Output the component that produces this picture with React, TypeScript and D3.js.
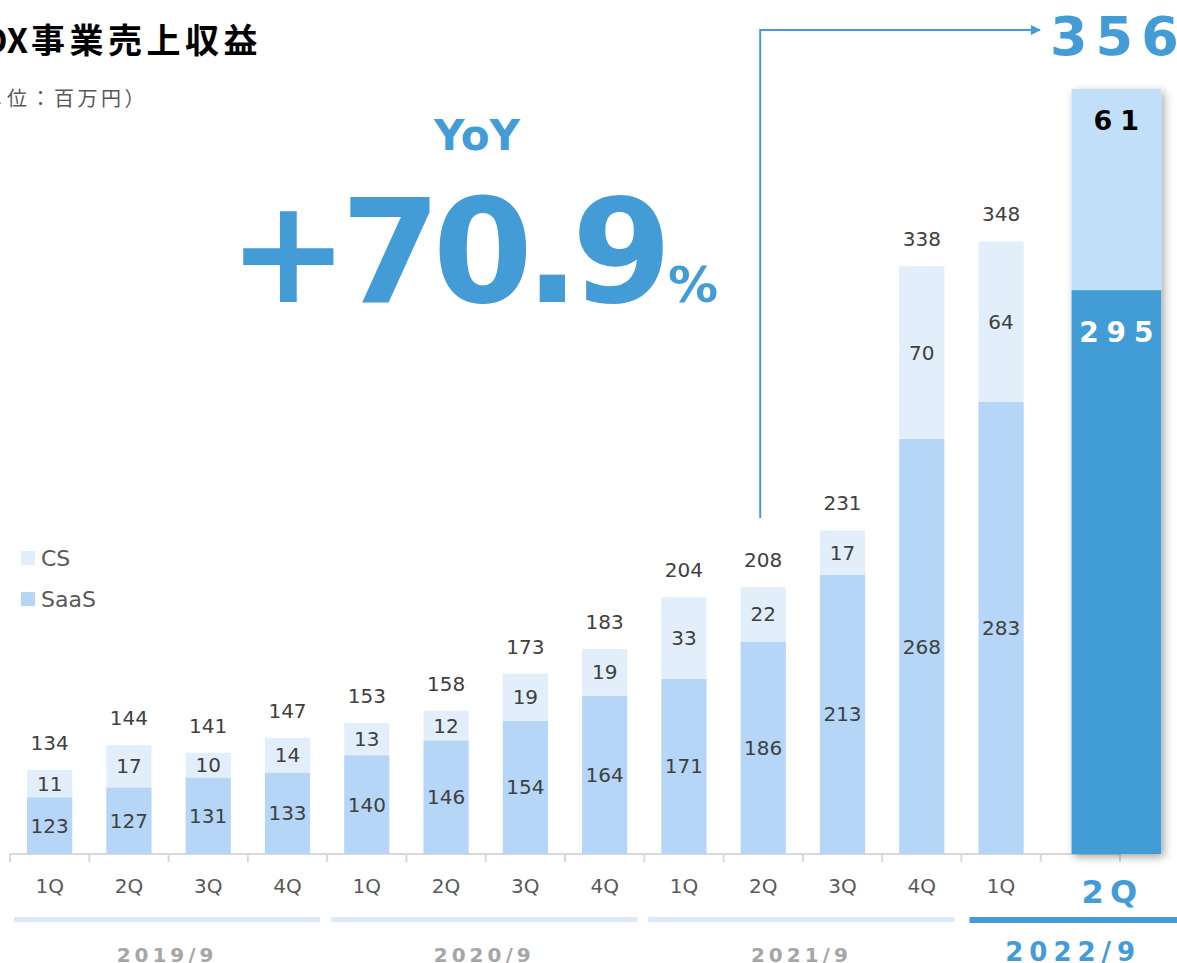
import * as d3 from 'd3'

// quarterly revenue (million yen)
const quarters = ['1Q', '2Q', '3Q', '4Q', '1Q', '2Q', '3Q', '4Q', '1Q', '2Q', '3Q', '4Q', '1Q', '2Q']
const saas = [123, 127, 131, 133, 140, 146, 154, 164, 171, 186, 213, 268, 283, 295]
const cs = [11, 17, 10, 14, 13, 12, 19, 19, 33, 22, 17, 70, 64, 61]
const totals = [134, 144, 141, 147, 153, 158, 173, 183, 204, 208, 231, 338, 348, 356]
const years = ['2019/9', '2020/9', '2021/9', '2022/9']
const yearSpans = [4, 4, 4, 2]

const W = 1177
const H = 963
const BLUE = '#439cd6'
const SAAS = '#b5d6f6'
const CSC = '#e2effb'
const HL_CS = '#c2dff9'
const TXT = '#404040'
const JP = '"Noto Sans CJK JP", sans-serif'
const LAT = '"DejaVu Sans", Verdana, sans-serif'

export default function App() {
  const baseY = 854
  const idx = quarters.map((_, i) => i)
  const x = d3.scaleBand<number>().domain(idx).range([10, 1120]).padding(0)
  const step = x.step()
  const bw = step * 0.57
  const y = d3.scaleLinear().domain([100, 350]).range([baseY, 236.5])
  // highlighted latest quarter has its own scale
  const yh = d3.scaleLinear().domain([124, 356]).range([baseY, 89])
  const last = quarters.length - 1
  const hlCenter = (x(last) || 0) + step / 2 + 36
  const hlW = step * 1.13

  let acc = 0
  const groups = years.map((label, i) => {
    const s = acc
    acc += yearSpans[i]
    return { label, start: s, end: acc - 1, current: i === years.length - 1 }
  })

  const arrowX = (x(9) || 0) + step / 2 - 3

  return (
    <svg width={W} height={H} style={{ position: 'absolute', left: 0, top: 0, background: '#fff' }}>
      <defs>
        <filter id="shadow" x="-20%" y="-10%" width="150%" height="130%">
          <feDropShadow dx="3" dy="3" stdDeviation="4" floodColor="#000" floodOpacity="0.35" />
        </filter>
        <marker id="arrow" viewBox="0 0 10 10" refX="9" refY="5" markerWidth="5" markerHeight="5" orient="auto">
          <path d="M0,0 L10,5 L0,10 z" fill={BLUE} />
        </marker>
      </defs>

      {/* title */}
      <text x={28} y={53} textAnchor="end" fontFamily={JP} fontWeight={700} fontSize={34} fill="#000">DX</text>
      <text x={31} y={53} fontFamily={JP} fontWeight={700} fontSize={34} letterSpacing={4.5} fill="#000">事業売上収益</text>
      <text x={5} y={106} textAnchor="end" fontFamily={JP} fontSize={20} letterSpacing={3.5} fill="#595959">（単</text>
      <text x={7} y={106} fontFamily={JP} fontSize={20} letterSpacing={3.5} fill="#595959">位：百万円）</text>

      {/* YoY */}
      <text x={477} y={150} textAnchor="middle" fontFamily={LAT} fontWeight={700} fontSize={42} fill={BLUE}>YoY</text>
      <text x={228} y={302} fontFamily={LAT} fontWeight={700} fontSize={144} letterSpacing={-8} fill={BLUE}>+70.9</text>
      <text x={668} y={302} fontFamily={LAT} fontWeight={700} fontSize={50} fill={BLUE}>%</text>

      {/* legend */}
      <rect x={21} y={551} width={14} height={14} fill={CSC} />
      <text x={41} y={566} fontFamily={LAT} fontSize={22} fill="#595959">CS</text>
      <rect x={21} y={592} width={14} height={14} fill={SAAS} />
      <text x={41} y={607} fontFamily={LAT} fontSize={22} fill="#595959">SaaS</text>

      {/* axis */}
      <line x1={10} x2={1120} y1={baseY} y2={baseY} stroke="#d9d9d9" strokeWidth={2} />
      {d3.range(quarters.length + 1).map((i) => {
        const tx = 10 + i * step
        return <line key={'t' + i} x1={tx} x2={tx} y1={baseY} y2={baseY + 8} stroke="#d9d9d9" strokeWidth={2} />
      })}

      {/* bars */}
      {idx.slice(0, last).map((i) => {
        const cx = (x(i) || 0) + step / 2
        const ySaas = y(saas[i])
        const yTot = y(totals[i])
        return (
          <g key={'b' + i}>
            <rect x={cx - bw / 2} y={ySaas} width={bw} height={baseY - ySaas} fill={SAAS} />
            <rect x={cx - bw / 2} y={yTot} width={bw} height={ySaas - yTot} fill={CSC} />
            <text x={cx} y={(ySaas + baseY) / 2 + 7} textAnchor="middle" fontFamily={LAT} fontSize={20} fill={TXT}>{saas[i]}</text>
            <text x={cx} y={(ySaas + yTot) / 2 + 7} textAnchor="middle" fontFamily={LAT} fontSize={20} fill={TXT}>{cs[i]}</text>
            <text x={cx} y={yTot - 20} textAnchor="middle" fontFamily={LAT} fontSize={20} fill={TXT}>{totals[i]}</text>
            <text x={cx} y={893} textAnchor="middle" fontFamily={LAT} fontSize={20} fill="#595959">{quarters[i]}</text>
          </g>
        )
      })}

      {/* highlighted bar */}
      <g filter="url(#shadow)">
        <rect x={hlCenter - hlW / 2} y={yh(saas[last])} width={hlW} height={baseY - yh(saas[last])} fill={BLUE} />
        <rect x={hlCenter - hlW / 2} y={yh(totals[last])} width={hlW} height={yh(saas[last]) - yh(totals[last])} fill={HL_CS} />
      </g>
      <text x={hlCenter + 4} y={yh(totals[last]) + 41} textAnchor="middle" fontFamily={LAT} fontWeight={700} fontSize={27} letterSpacing={8} fill="#000">{cs[last]}</text>
      <text x={hlCenter + 4} y={yh(saas[last]) + 52} textAnchor="middle" fontFamily={LAT} fontWeight={700} fontSize={28} letterSpacing={8} fill="#fff">{saas[last]}</text>
      <text x={hlCenter - 4} y={903} textAnchor="middle" fontFamily={LAT} fontWeight={700} fontSize={32} letterSpacing={6} fill={BLUE}>{quarters[last]}</text>

      {/* arrow to total */}
      <polyline points={`${arrowX},518 ${arrowX},30 1040,30`} fill="none" stroke={BLUE} strokeWidth={2} markerEnd="url(#arrow)" />
      <text x={1050} y={55} fontFamily={LAT} fontWeight={700} fontSize={54} letterSpacing={8} fill={BLUE}>{totals[last]}</text>

      {/* fiscal year groups */}
      {groups.map((g) => {
        const x0 = (x(g.start) || 0) + 4
        const x1 = g.current ? W : (x(g.end) || 0) + step - 7
        return (
          <g key={g.label}>
            <rect x={x0 + (g.current ? 4 : 0)} y={917} width={x1 - x0 - (g.current ? 4 : 0)} height={g.current ? 6 : 5} fill={g.current ? BLUE : '#dceaf7'} />
            <text
              x={(x0 + x1) / 2 + (g.current ? 2 : 0)}
              y={g.current ? 961 : 962}
              textAnchor="middle"
              fontFamily={LAT}
              fontWeight={700}
              fontSize={g.current ? 26 : 20}
              letterSpacing={g.current ? 6 : 4}
              fill={g.current ? BLUE : '#a6a6a6'}
            >
              {g.label}
            </text>
          </g>
        )
      })}
    </svg>
  )
}
